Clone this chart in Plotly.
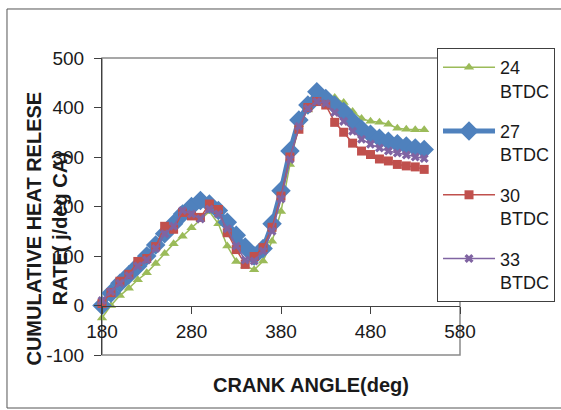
import plotly.graph_objects as go

crank_angle = [180, 190, 200, 210, 220, 230, 240, 250, 260, 270, 280, 290, 300, 310, 320,
               330, 340, 350, 360, 370, 380, 390, 400, 410, 420, 430, 440, 450, 460, 470,
               480, 490, 500, 510, 520, 530, 540]

hr_24 = [-25, 0, 20, 35, 52, 66, 85, 105, 125, 140, 157, 175, 190, 165, 120, 89, 80, 72,
         90, 130, 190, 285, 365, 395, 415, 422, 420, 410, 392, 378, 372, 370, 366, 358,
         356, 355, 355]
hr_27 = [0, 25, 45, 62, 80, 100, 122, 145, 165, 185, 200, 212, 205, 192, 168, 142, 118,
         100, 115, 165, 232, 312, 375, 405, 432, 418, 405, 392, 372, 356, 346, 338, 332,
         327, 322, 318, 315]
hr_30 = [4, 26, 49, 63, 89, 95, 119, 160, 154, 188, 181, 178, 205, 194, 147, 113, 83, 99,
         117, 158, 221, 300, 356, 400, 412, 405, 370, 350, 328, 312, 305, 296, 292, 285,
         282, 280, 275]
hr_33 = [10, 28, 45, 60, 80, 92, 115, 145, 160, 192, 185, 175, 195, 185, 155, 120, 92, 90,
         110, 150, 215, 295, 362, 398, 412, 408, 390, 372, 352, 336, 326, 318, 312, 308,
         304, 300, 297]

series_names = ["24<br>BTDC", "27<br>BTDC", "30<br>BTDC", "33<br>BTDC"]
x_ticks = [180, 280, 380, 480, 580]
y_ticks = [-100, 0, 100, 200, 300, 400, 500]

FONT = "Liberation Sans, Arial, sans-serif"
fig = go.Figure()

styles = [
    (hr_24, "#9BBB59", 1.5, "triangle-up", 9),
    (hr_27, "#4F81BD", 5, "diamond", 15),
    (hr_30, "#C0504D", 1.5, "square", 9),
    (hr_33, "#8064A2", 1.5, "x", 8),
]
for i, (vals, col, lw, sym, ms) in enumerate(styles):
    fig.add_trace(go.Scatter(
        x=crank_angle, y=vals, name=series_names[i], mode="lines+markers",
        line=dict(color=col, width=lw),
        marker=dict(color=col, symbol=sym, size=ms),
        cliponaxis=False, legendgroup=str(i),
    ))

fig.update_layout(
    width=561, height=410,
    margin=dict(l=102, r=101, t=58, b=55, autoexpand=False),
    paper_bgcolor="white", plot_bgcolor="white",
    font=dict(family=FONT, size=19, color="#1a1a1a"),
    showlegend=True,
    legend=dict(x=0.9358, y=1.0337, xanchor="left", yanchor="top",
                bordercolor="#404040", borderwidth=1, bgcolor="white",
                font=dict(size=18), valign="top", tracegroupgap=14,
                itemwidth=52, maxheight=400),
    xaxis=dict(range=[180, 580], tickvals=x_ticks, ticktext=[str(v) for v in x_ticks],
               anchor="free", position=1/6, showline=True, linecolor="#404040",
               linewidth=1, ticks="outside", ticklen=7, tickcolor="#404040",
               ticklabelstandoff=2, showgrid=False, zeroline=False),
    yaxis=dict(range=[-100, 500], tickvals=y_ticks, ticktext=[str(v) for v in y_ticks],
               showline=True, linecolor="#404040", linewidth=1, ticks="outside",
               ticklen=7, tickcolor="#404040", ticklabelstandoff=6,
               showgrid=False, zeroline=False),
    shapes=[
        dict(type="rect", xref="paper", yref="paper", x0=0, x1=1, y0=0, y1=1,
             line=dict(color="#8a8a8a", width=1.5), layer="below"),
        dict(type="rect", xref="paper", yref="paper", x0=-0.2654, x1=1.4,
             y0=-0.1785, y1=1.165, line=dict(color="#555555", width=1), layer="below"),
    ],
    annotations=[
        dict(text="<b>CRANK ANGLE(deg)</b>", xref="paper", yref="paper",
             x=0.584, y=-0.101, xanchor="center", yanchor="middle", showarrow=False,
             font=dict(size=20, family=FONT, color="#1a1a1a")),
        dict(text="<b>CUMULATIVE HEAT RELESE<br>RATE( j/deg CA)</b>", xref="paper",
             yref="paper", x=-0.1522, y=0.4242, xanchor="center", yanchor="middle",
             textangle=-90, showarrow=False,
             font=dict(size=20, family=FONT, color="#1a1a1a")),
    ],
)

fig.write_html("out.html", config={"displayModeBar": False},
               post_script="document.body.style.margin='0';"
                           "document.body.style.overflow='hidden';"
                           "document.documentElement.style.overflow='hidden';")
